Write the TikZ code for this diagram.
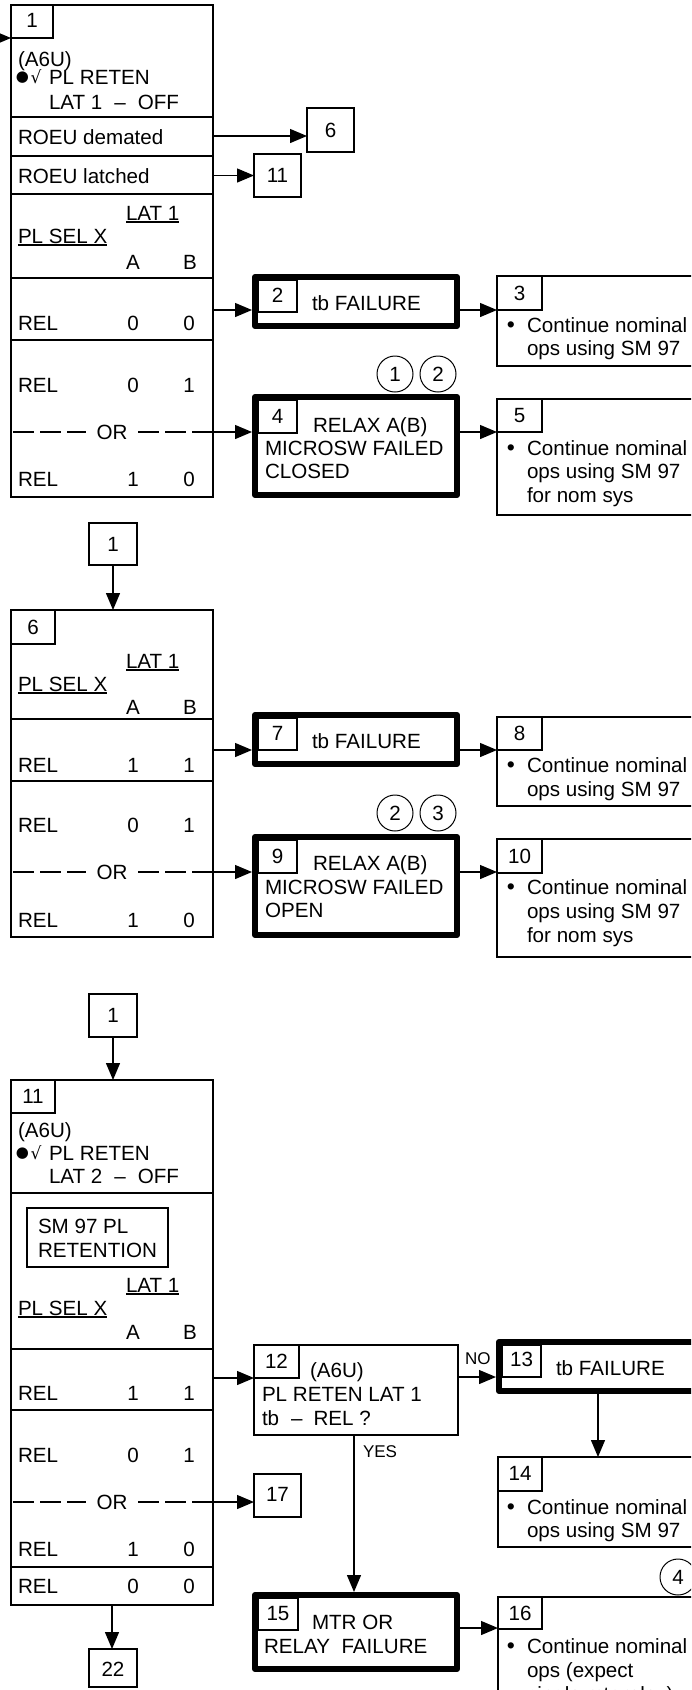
\documentclass[tikz,border=0pt]{standalone}
\usepackage{fontspec}
\setmainfont{Liberation Sans}
\newfontfamily\symf{DejaVu Sans}
\usetikzlibrary{arrows.meta,fit}
\newcommand\fs{\fontsize{20.6}{23.5}\selectfont}
\newcommand\fsmall{\fontsize{17}{17}\selectfont}
\newcommand\myul[1]{\setbox0\hbox{#1}\rlap{\rule[-2.6pt]{\wd0}{1.3pt}}\box0}
\tikzset{
 x=1pt,y=-1pt,
 frame/.style={draw, line width=1.3pt, inner sep=0pt, outer sep=0pt},
 heavy/.style={draw, line width=6pt, line join=round, inner sep=0pt},
 txt/.style={inner sep=0pt, outer sep=0pt, font=\fs, anchor=base west},
 num/.style={inner sep=0pt, outer sep=0pt, font=\fs, anchor=base},
 lbl/.style={inner sep=0pt, outer sep=0pt, font=\fsmall, anchor=base west},
 circ/.style={circle, draw, line width=1pt, minimum size=36pt, inner sep=0pt, font=\fs},
 arr/.style={line width=1.3pt, -{Triangle[length=17pt,width=14pt]}},
 orline/.style={line width=1.3pt, dash pattern=on 21pt off 6pt},
 rule/.style={line width=1.3pt},
 dotsym/.style={inner sep=0pt, font=\symf\fontsize{15}{15}\selectfont},
 radsym/.style={inner sep=0pt, font=\symf\fontsize{17}{17}\selectfont},
 bulsym/.style={inner sep=0pt, outer sep=0pt, anchor=base, font=\fontsize{23}{23}\selectfont},
}
\newcommand\relrow[4]{%
 \node[txt] (#1r) at (18,#2) {REL};
 \node[num] (#1a) at (133,#2) {#3};
 \node[num] (#1b) at (189,#2) {#4};}
\newcommand\orrow[2]{%
 \draw[orline] (13,#2) -- (86,#2);
 \node[inner sep=0pt, font=\fs] (#1) at (112,#2) {OR};
 \draw[orline] (138,#2) -- (213,#2);}
\newcommand\bul[2]{\node[bulsym] (#1) at (511,#2) {•};}
\begin{document}
\begin{tikzpicture}
\useasboundingbox (0,0) rectangle (691,1690);
\clip (0,0) rectangle (691,1690);

% ================= Block 1 =================
\node[frame, fit={(11,5)(213,497)}] (b1) {};
\node[frame, fit={(11,5)(53,38)}] (nb1) {};
\node[num] (n1) at (32,27) {1};
\node[txt] (t1a) at (18,66) {(A6U)};
\node[dotsym] (t1b) at (22.5,77.5) {●};
\node[radsym] (t1c) at (36,76.5) {√};
\node[txt] (t1d) at (49,84) {PL RETEN};
\node[txt] (t1e) at (49,109) {LAT 1\hspace{12pt}–\hspace{12pt}OFF};
\draw[rule] (11,117) -- (213,117);
\node[txt] (t1f) at (18,144) {ROEU demated};
\draw[rule] (11,156) -- (213,156);
\node[txt] (t1g) at (18,183) {ROEU latched};
\draw[rule] (11,194) -- (213,194);
\node[txt] (t1h) at (126,220) {\myul{LAT 1}};
\node[txt] (t1i) at (18,243) {\myul{PL SEL X}};
\node[num] (t1j) at (133,269) {A};
\node[num] (t1k) at (190,269) {B};
\draw[rule] (11,278) -- (213,278);
\relrow{ra}{330}{0}{0}
\draw[rule] (11,340) -- (213,340);
\relrow{rb}{392}{0}{1}
\orrow{or1}{432}
\relrow{rc}{486}{1}{0}

\coordinate (s1) at (-20,38);
\coordinate (e1) at (11,38);
\draw[arr] (s1) -- (e1);

\node[frame, fit={(307,108)(354,152)}] (r6) {};
\node[inner sep=0pt, font=\fs] (r6t) at (r6) {6};
\coordinate (e6) at (307,136);
\draw[arr] (e6 -| b1.east) -- (e6);

\node[frame, fit={(254,154)(301,197)}] (r11) {};
\node[inner sep=0pt, font=\fs] (r11t) at (r11) {11};
\draw[arr] (r11.west -| b1.east) -- (r11.west);

% box 2
\node[heavy, fit={(255,277)(457,326)}] (b2) {};
\node[frame, fit={(258,280)(297,312)}] (nb2) {};
\node[num] (n2) at (277.5,302) {2};
\node[txt] (t2) at (312,310) {tb FAILURE};
\coordinate (e2) at (252,310);
\draw[arr] (e2 -| b1.east) -- (e2);

% box 3
\node[frame, fit={(497,276)(720,366)}] (b3) {};
\node[frame, fit={(497,276)(542,310)}] (nb3) {};
\node[num] (n3) at (519.5,300) {3};
\bul{u3}{332}
\node[txt] (t3a) at (527,332) {Continue nominal};
\node[txt] (t3b) at (527,355) {ops using SM 97};
\coordinate (e3) at (497,310);
\draw[arr] (e3 -| b2.east) -- (e3);

% circles 1 2
\node[circ] (c1) at (395,374) {1};
\node[circ] (c2) at (438,374) {2};

% box 4
\node[heavy, fit={(255,397)(457,495)}] (b4) {};
\node[frame, fit={(258,400)(297,433)}] (nb4) {};
\node[num] (n4) at (277.5,423) {4};
\node[txt] (t4a) at (313,432) {RELAX A(B)};
\node[txt] (t4b) at (265,455) {MICROSW FAILED};
\node[txt] (t4c) at (265,478) {CLOSED};
\coordinate (e4) at (252,432);
\draw[arr] (e4 -| b1.east) -- (e4);

% box 5
\node[frame, fit={(497,399)(720,515)}] (b5) {};
\node[frame, fit={(497,399)(542,432)}] (nb5) {};
\node[num] (n5) at (519.5,422) {5};
\bul{u5}{455}
\node[txt] (t5a) at (527,455) {Continue nominal};
\node[txt] (t5b) at (527,478) {ops using SM 97};
\node[txt] (t5c) at (527,502) {for nom sys};
\coordinate (e5) at (497,432);
\draw[arr] (e5 -| b4.east) -- (e5);

% ================= Block 6 =================
\node[frame, fit={(89,523)(137,565)}] (r1b) {};
\node[inner sep=0pt, font=\fs] (r1bt) at (r1b) {1};
\node[frame, fit={(11,610)(213,937)}] (b6) {};
\draw[arr] (r1b.south) -- (r1b.south |- b6.north);
\node[frame, fit={(11,610)(55,644)}] (nb6) {};
\node[num] (n6) at (33,634) {6};
\node[txt] (t6a) at (126,668) {\myul{LAT 1}};
\node[txt] (t6b) at (18,691) {\myul{PL SEL X}};
\node[num] (t6c) at (133,714) {A};
\node[num] (t6d) at (190,714) {B};
\draw[rule] (11,719) -- (213,719);
\relrow{rd}{772}{1}{1}
\draw[rule] (11,781) -- (213,781);
\relrow{re}{832}{0}{1}
\orrow{or2}{872}
\relrow{rf}{927}{1}{0}

% box 7
\node[heavy, fit={(255,715)(457,764)}] (b7) {};
\node[frame, fit={(258,718)(297,750)}] (nb7) {};
\node[num] (n7) at (277.5,740) {7};
\node[txt] (t7) at (312,748) {tb FAILURE};
\coordinate (e7) at (252,750);
\draw[arr] (e7 -| b6.east) -- (e7);

% box 8
\node[frame, fit={(497,717)(720,806)}] (b8) {};
\node[frame, fit={(497,717)(542,750)}] (nb8) {};
\node[num] (n8) at (519.5,740) {8};
\bul{u8}{772}
\node[txt] (t8a) at (527,772) {Continue nominal};
\node[txt] (t8b) at (527,796) {ops using SM 97};
\coordinate (e8) at (497,750);
\draw[arr] (e8 -| b7.east) -- (e8);

% circles 2 3
\node[circ] (c3) at (395,813) {2};
\node[circ] (c4) at (438,813) {3};

% box 9
\node[heavy, fit={(255,837)(457,935)}] (b9) {};
\node[frame, fit={(258,840)(297,873)}] (nb9) {};
\node[num] (n9) at (277.5,863) {9};
\node[txt] (t9a) at (313,870) {RELAX A(B)};
\node[txt] (t9b) at (265,894) {MICROSW FAILED};
\node[txt] (t9c) at (265,917) {OPEN};
\coordinate (e9) at (252,872);
\draw[arr] (e9 -| b6.east) -- (e9);

% box 10
\node[frame, fit={(497,839)(720,957)}] (b10) {};
\node[frame, fit={(497,839)(542,873)}] (nb10) {};
\node[num] (n10) at (519.5,863) {10};
\bul{u10}{894}
\node[txt] (t10a) at (527,894) {Continue nominal};
\node[txt] (t10b) at (527,918) {ops using SM 97};
\node[txt] (t10c) at (527,942) {for nom sys};
\coordinate (e10) at (497,872);
\draw[arr] (e10 -| b9.east) -- (e10);

% ================= Block 11 =================
\node[frame, fit={(89,994)(137,1037)}] (r1c) {};
\node[inner sep=0pt, font=\fs] (r1ct) at (r1c) {1};
\node[frame, fit={(11,1080)(213,1605)}] (b11) {};
\draw[arr] (r1c.south) -- (r1c.south |- b11.north);
\node[frame, fit={(11,1080)(55,1113)}] (nb11) {};
\node[num] (n11) at (33,1103) {11};
\node[txt] (t11a) at (18,1137) {(A6U)};
\node[dotsym] (t11b) at (22.5,1153.5) {●};
\node[radsym] (t11c) at (36,1152.5) {√};
\node[txt] (t11d) at (49,1160) {PL RETEN};
\node[txt] (t11e) at (49,1183) {LAT 2\hspace{12pt}–\hspace{12pt}OFF};
\draw[rule] (11,1193) -- (213,1193);
\node[frame, fit={(27,1208)(168,1267)}] (sm) {};
\node[txt] (t11f) at (38,1233) {SM 97 PL};
\node[txt] (t11g) at (38,1257) {RETENTION};
\node[txt] (t11h) at (126,1292) {\myul{LAT 1}};
\node[txt] (t11i) at (18,1315) {\myul{PL SEL X}};
\node[num] (t11j) at (133,1339) {A};
\node[num] (t11k) at (190,1339) {B};
\draw[rule] (11,1349) -- (213,1349);
\relrow{rg}{1400}{1}{1}
\draw[rule] (11,1410) -- (213,1410);
\relrow{rh}{1462}{0}{1}
\orrow{or3}{1502}
\relrow{ri}{1556}{1}{0}
\draw[rule] (11,1567) -- (213,1567);
\relrow{rj}{1593}{0}{0}

% box 22
\node[frame, fit={(89,1649)(137,1687)}] (r22) {};
\node[num] (r22t) at (113,1676) {22};
\draw[arr] (b11.south) -- (b11.south |- r22.north);

% box 17
\node[frame, fit={(254,1474)(301,1517)}] (r17) {};
\node[num] (r17t) at (277.5,1501) {17};
\coordinate (e17) at (254,1502);
\draw[arr] (e17 -| b11.east) -- (e17);

% box 12
\node[frame, fit={(254,1345)(458,1435)}] (b12) {};
\node[frame, fit={(254,1345)(299,1378)}] (nb12) {};
\node[num] (n12) at (276.5,1368) {12};
\node[txt] (t12a) at (310,1377) {(A6U)};
\node[txt] (t12b) at (262,1401) {PL RETEN LAT 1};
\node[txt] (t12c) at (262,1425) {tb\hspace{12pt}–\hspace{11pt}REL ?};
\coordinate (e12) at (254,1378);
\draw[arr] (e12 -| b11.east) -- (e12);

% box 13
\node[heavy, fit={(499,1342)(720,1391)}] (b13) {};
\node[frame, fit={(502,1345)(541,1377)}] (nb13) {};
\node[num] (n13) at (521.5,1366) {13};
\node[txt] (t13) at (556,1375) {tb FAILURE};
\coordinate (e13) at (496,1377);
\draw[arr] (e13 -| b12.east) -- (e13);
\node[lbl] (no) at (465,1364) {NO};

% box 14
\node[frame, fit={(498,1457)(720,1547)}] (b14) {};
\node[frame, fit={(498,1457)(542,1491)}] (nb14) {};
\node[num] (n14) at (520,1480) {14};
\bul{u14}{1514}
\node[txt] (t14a) at (527,1514) {Continue nominal};
\node[txt] (t14b) at (527,1537) {ops using SM 97};
\coordinate (e14) at (598,1457);
\draw[arr] (e14 |- b13.south) -- (e14);

% circle 4
\node[circ] (c5) at (678,1577) {4};

% box 15
\node[heavy, fit={(255,1595)(457,1669)}] (b15) {};
\node[frame, fit={(258,1598)(298,1630)}] (nb15) {};
\node[num] (n15) at (278,1620) {15};
\node[txt] (t15a) at (312,1629) {MTR OR};
\node[txt] (t15b) at (264,1653) {RELAY\hspace{11.5pt}FAILURE};
\coordinate (e15) at (354,1592);
\draw[arr] (e15 |- b12.south) -- (e15);
\node[lbl] (yes) at (363,1457) {YES};

% box 16
\node[frame, fit={(498,1597)(720,1720)}] (b16) {};
\node[frame, fit={(498,1597)(542,1629)}] (nb16) {};
\node[num] (n16) at (520,1620) {16};
\bul{u16}{1653}
\node[txt] (t16a) at (527,1653) {Continue nominal};
\node[txt] (t16b) at (527,1677) {ops (expect};
\node[txt] (t16c) at (527,1701) {single mtr relay)};
\coordinate (e16) at (498,1628);
\draw[arr] (e16 -| b15.east) -- (e16);
\end{tikzpicture}
\end{document}
